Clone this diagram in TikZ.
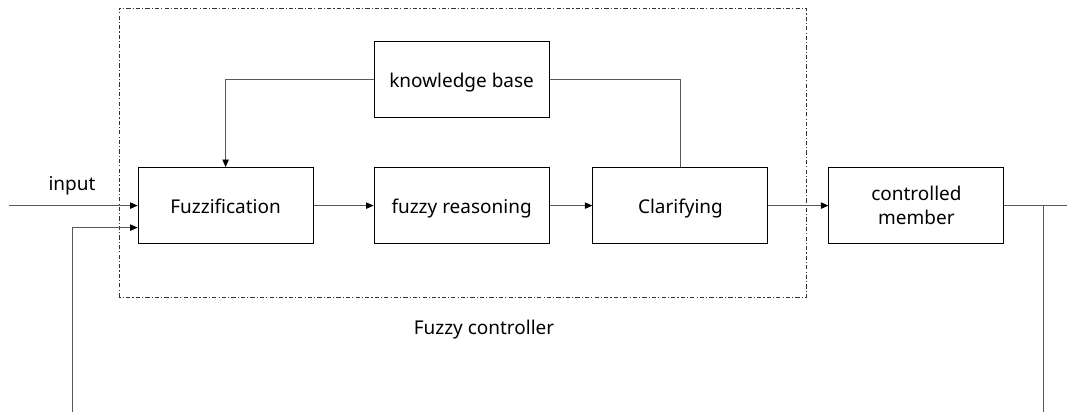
\documentclass[tikz,border=0pt]{standalone}
\usepackage{fontspec}
\setmainfont{Noto Sans}
\usepackage{tikz}
\usetikzlibrary{shapes,arrows.meta,positioning,calc}

\tikzset{
  block/.style={draw=black,line width=0.7pt,minimum width=4.375cm,minimum height=1.9cm,align=center,font=\fontsize{13.5}{17}\selectfont},
  oneline/.style={text height=2.4ex,text depth=0.2ex},
  link/.style={draw=black!65,line width=0.7pt},
  tip/.style={link,-{Triangle[length=1.9mm,width=1.6mm,color=black]}}
}

\begin{document}
\begin{tikzpicture}
\useasboundingbox (0,0) rectangle (26.675,10.3);
% controller frame
\draw[line width=0.6pt,black!80,dash pattern=on 3pt off 1.5pt on 0.8pt off 1.5pt] (2.975,2.875) rectangle (20.15,10.1);
\node at (12.1,2.05) {\fontsize{13.5}{17}\selectfont Fuzzy controller};

% blocks
\node[block,oneline] (kb) at (11.54,8.325) {knowledge base};
\node[block,oneline] (fuzz) at (5.64,5.16) {Fuzzification};
\node[block,oneline] (reason) at (11.54,5.16) {fuzzy reasoning};
\node[block,oneline] (clar) at (17.01,5.16) {Clarifying};
\node[block] (plant) at (22.91,5.16) {controlled\\member};

% signal path
\coordinate (in) at (0.225,5.16);
\coordinate (out) at (26.675,5.16);
\coordinate (tap) at (26.075,5.16);
\coordinate (fbl) at (1.8,0);
\draw[tip] (in) -- (fuzz.west);
\node at (1.8,5.65) {\fontsize{13.5}{17}\selectfont input};
\draw[tip] (fuzz) -- (reason);
\draw[tip] (reason) -- (clar);
\draw[tip] (clar) -- (plant);
\draw[link] (plant) -- (out);
\draw[link] (tap) -- (tap |- 0,0);

% feedback into fuzzification
\draw[tip] (fbl) |- ($(fuzz.west)+(0,-0.55)$);

% rule base links
\draw[tip] (kb.west) -| (fuzz.north);
\draw[link] (kb.east) -| (clar.north);
\end{tikzpicture}
\end{document}
